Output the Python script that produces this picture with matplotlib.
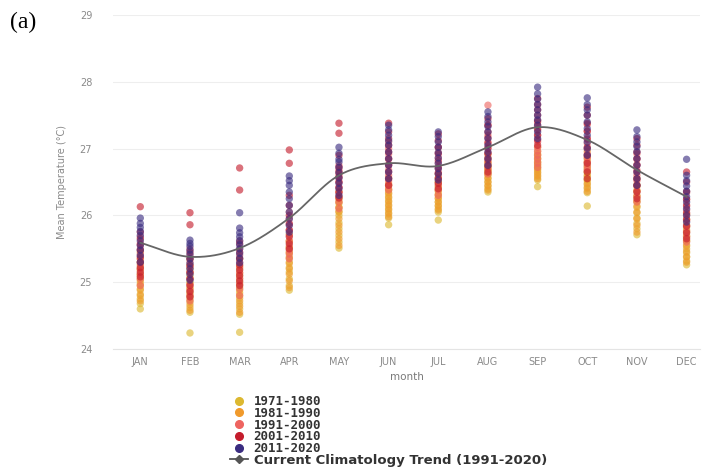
import numpy as np
import matplotlib
matplotlib.use("Agg")
import matplotlib.pyplot as plt
from matplotlib.lines import Line2D

months = ["JAN", "FEB", "MAR", "APR", "MAY", "JUN",
          "JUL", "AUG", "SEP", "OCT", "NOV", "DEC"]
decades = ["1971-1980", "1981-1990", "1991-2000", "2001-2010", "2011-2020"]
decade_colors = ["#dcb830", "#f09a2c", "#ee6460", "#c41c2c", "#3a2c80"]

# monthly mean temperatures, one list of yearly values per month
t_1971_1980 = [
    [24.60, 24.68, 24.75, 24.82, 24.90, 24.98, 25.05, 25.12, 25.20, 25.30],
    [24.24, 24.55, 24.62, 24.70, 24.78, 24.85, 24.92, 25.00, 25.10, 25.20],
    [24.25, 24.52, 24.60, 24.68, 24.76, 24.84, 24.92, 25.00, 25.10, 25.20],
    [24.88, 24.95, 25.05, 25.15, 25.22, 25.30, 25.38, 25.45, 25.52, 25.60],
    [25.51, 25.60, 25.70, 25.80, 25.89, 26.00, 26.06, 26.12, 26.18, 26.24],
    [25.86, 25.96, 26.02, 26.08, 26.14, 26.20, 26.26, 26.32, 26.38, 26.45],
    [25.93, 26.05, 26.10, 26.15, 26.20, 26.25, 26.30, 26.36, 26.42, 26.50],
    [26.35, 26.40, 26.45, 26.50, 26.55, 26.60, 26.64, 26.68, 26.72, 26.78],
    [26.43, 26.53, 26.58, 26.63, 26.68, 26.72, 26.76, 26.80, 26.86, 26.92],
    [26.14, 26.34, 26.40, 26.46, 26.52, 26.58, 26.64, 26.70, 26.76, 26.84],
    [25.71, 25.80, 25.88, 25.96, 26.04, 26.12, 26.20, 26.28, 26.36, 26.44],
    [25.26, 25.32, 25.38, 25.44, 25.50, 25.56, 25.62, 25.68, 25.75, 25.82],
]
t_1981_1990 = [
    [24.72, 24.80, 24.88, 24.95, 25.02, 25.10, 25.18, 25.25, 25.35, 25.45],
    [24.58, 24.66, 24.74, 24.82, 24.90, 24.98, 25.06, 25.15, 25.25, 25.35],
    [24.55, 24.64, 24.72, 24.80, 24.88, 24.96, 25.05, 25.14, 25.24, 25.35],
    [24.92, 25.02, 25.12, 25.20, 25.28, 25.36, 25.44, 25.52, 25.62, 25.72],
    [25.55, 25.65, 25.75, 25.85, 25.95, 26.05, 26.12, 26.20, 26.28, 26.36],
    [25.98, 26.04, 26.10, 26.16, 26.22, 26.28, 26.34, 26.40, 26.48, 26.56],
    [26.08, 26.14, 26.20, 26.26, 26.32, 26.38, 26.44, 26.50, 26.56, 26.62],
    [26.38, 26.44, 26.50, 26.56, 26.62, 26.68, 26.74, 26.80, 26.86, 26.92],
    [26.55, 26.60, 26.65, 26.70, 26.75, 26.80, 26.85, 26.90, 26.96, 27.02],
    [26.36, 26.42, 26.48, 26.54, 26.60, 26.66, 26.72, 26.80, 26.88, 26.96],
    [25.75, 25.85, 25.95, 26.05, 26.14, 26.22, 26.30, 26.38, 26.46, 26.55],
    [25.30, 25.38, 25.46, 25.54, 25.62, 25.70, 25.78, 25.86, 25.94, 26.02],
]
t_1991_2000 = [
    [24.95, 25.05, 25.12, 25.20, 25.28, 25.35, 25.42, 25.50, 25.58, 25.68],
    [24.72, 24.80, 24.88, 24.96, 25.05, 25.14, 25.22, 25.30, 25.40, 25.50],
    [24.80, 24.90, 24.98, 25.06, 25.14, 25.22, 25.30, 25.40, 25.50, 25.62],
    [25.35, 25.42, 25.48, 25.55, 25.62, 25.70, 25.78, 25.86, 25.95, 26.05],
    [26.10, 26.20, 26.28, 26.35, 26.42, 26.50, 26.56, 26.62, 26.68, 26.75],
    [26.38, 26.45, 26.52, 26.60, 26.68, 26.76, 26.84, 26.92, 27.00, 27.10],
    [26.30, 26.38, 26.46, 26.54, 26.62, 26.70, 26.78, 26.86, 26.94, 27.02],
    [26.62, 26.70, 26.78, 26.86, 26.94, 27.02, 27.10, 27.20, 27.35, 27.65],
    [26.72, 26.78, 26.84, 26.90, 26.96, 27.02, 27.10, 27.20, 27.30, 27.40],
    [26.68, 26.74, 26.80, 26.86, 26.92, 27.00, 27.08, 27.16, 27.26, 27.36],
    [26.20, 26.28, 26.36, 26.44, 26.52, 26.60, 26.68, 26.76, 26.84, 26.92],
    [25.60, 25.68, 25.76, 25.84, 25.92, 26.00, 26.08, 26.16, 26.24, 26.34],
]
t_2001_2010 = [
    [25.08, 25.15, 25.22, 25.30, 25.38, 25.48, 25.56, 25.65, 25.75, 26.13],
    [24.78, 24.86, 24.95, 25.05, 25.15, 25.25, 25.35, 25.45, 25.86, 26.04],
    [24.95, 25.02, 25.10, 25.18, 25.26, 25.35, 25.45, 25.58, 26.38, 26.71],
    [25.50, 25.58, 25.68, 25.78, 25.88, 26.00, 26.15, 26.30, 26.78, 26.98],
    [26.26, 26.34, 26.42, 26.50, 26.58, 26.65, 26.72, 26.90, 27.23, 27.38],
    [26.45, 26.55, 26.65, 26.75, 26.85, 26.95, 27.05, 27.15, 27.25, 27.38],
    [26.40, 26.48, 26.56, 26.64, 26.72, 26.82, 26.92, 27.02, 27.12, 27.22],
    [26.65, 26.74, 26.83, 26.92, 27.00, 27.08, 27.16, 27.25, 27.35, 27.45],
    [27.05, 27.13, 27.20, 27.28, 27.35, 27.42, 27.50, 27.58, 27.66, 27.75],
    [26.55, 26.65, 26.78, 26.90, 27.02, 27.14, 27.26, 27.38, 27.50, 27.62],
    [26.25, 26.35, 26.45, 26.55, 26.65, 26.75, 26.85, 26.95, 27.05, 27.15],
    [25.65, 25.74, 25.84, 25.94, 26.04, 26.14, 26.24, 26.36, 26.50, 26.65],
]
t_2011_2020 = [
    [25.30, 25.40, 25.48, 25.55, 25.62, 25.70, 25.76, 25.82, 25.88, 25.96],
    [25.03, 25.12, 25.20, 25.28, 25.35, 25.42, 25.48, 25.54, 25.58, 25.63],
    [25.29, 25.36, 25.43, 25.50, 25.56, 25.62, 25.68, 25.74, 25.81, 26.04],
    [25.75, 25.85, 25.95, 26.05, 26.15, 26.25, 26.35, 26.45, 26.52, 26.59],
    [26.30, 26.40, 26.48, 26.56, 26.64, 26.72, 26.80, 26.84, 26.93, 27.02],
    [26.55, 26.65, 26.75, 26.85, 26.95, 27.05, 27.12, 27.20, 27.28, 27.35],
    [26.53, 26.62, 26.70, 26.78, 26.86, 26.94, 27.02, 27.10, 27.18, 27.25],
    [26.75, 26.85, 26.95, 27.05, 27.15, 27.25, 27.33, 27.40, 27.48, 27.55],
    [27.15, 27.25, 27.35, 27.43, 27.50, 27.58, 27.66, 27.74, 27.82, 27.92],
    [26.90, 27.00, 27.10, 27.20, 27.30, 27.40, 27.50, 27.58, 27.66, 27.76],
    [26.45, 26.55, 26.65, 26.75, 26.85, 26.95, 27.03, 27.10, 27.18, 27.28],
    [25.90, 26.00, 26.10, 26.20, 26.28, 26.36, 26.44, 26.52, 26.60, 26.84],
]
climatology = [25.59, 25.38, 25.51, 25.96, 26.60, 26.78,
               26.74, 27.02, 27.32, 27.13, 26.68, 26.28]

series = [t_1971_1980, t_1981_1990, t_1991_2000, t_2001_2010, t_2011_2020]


def smooth_curve(y, n=40):
    # cubic Hermite through the monthly points (drawing only)
    y = np.asarray(y, dtype=float)
    x = np.arange(len(y))
    m = np.gradient(y)
    xs, ys = [], []
    for i in range(len(y) - 1):
        t = np.linspace(0, 1, n, endpoint=False)
        h00 = 2 * t**3 - 3 * t**2 + 1
        h10 = t**3 - 2 * t**2 + t
        h01 = -2 * t**3 + 3 * t**2
        h11 = t**3 - t**2
        xs.append(x[i] + t)
        ys.append(h00 * y[i] + h10 * m[i] + h01 * y[i + 1] + h11 * m[i + 1])
    xs.append([x[-1]])
    ys.append([y[-1]])
    return np.concatenate(xs), np.concatenate(ys)


fig = plt.figure(figsize=(7.07, 4.73), dpi=100)
ax = fig.add_axes([113 / 707, 1 - 349 / 473, 587 / 707, 334 / 473])

for vals, color in zip(series, decade_colors):
    for mi, month_vals in enumerate(vals):
        ax.scatter([mi] * len(month_vals), month_vals, s=28, color=color,
                   alpha=0.62, edgecolors="none", zorder=2)

cx, cy = smooth_curve(climatology)
ax.plot(cx, cy, color="#666666", lw=1.3, zorder=3)

ax.set_xlim(-0.55, 11.27)
ax.set_ylim(24, 29)
ax.set_yticks([24, 25, 26, 27, 28, 29])
ax.set_xticks(range(12))
ax.set_xticklabels(months)
ax.grid(axis="y", color="#eeeeee", lw=0.8)
ax.set_axisbelow(True)
for s in ["top", "right", "left"]:
    ax.spines[s].set_visible(False)
ax.spines["bottom"].set_color("#e4e4e4")
ax.tick_params(axis="both", length=0, labelsize=7, colors="#8a8a8a")
ax.tick_params(axis="y", pad=15)
ax.tick_params(axis="x", pad=6)
ax.set_xlabel("month", fontsize=7.5, color="#7a7a7a", labelpad=3)
ax.set_ylabel("Mean Temperature (°C)", fontsize=7, color="#8a8a8a", labelpad=9)

fig.text(10 / 707, 1 - 22 / 473, "(a)", fontsize=17, family="Liberation Serif",
         va="center", ha="left")

handles = [Line2D([0], [0], marker="o", ls="none", color=c, markersize=5.5)
           for c in decade_colors]
handles.append(Line2D([0], [0], marker="D", color="#555555", lw=1.3, markersize=4))
labels = decades + ["Current Climatology Trend (1991-2020)"]
leg = fig.legend(handles, labels, loc="upper left",
                 bbox_to_anchor=(230 / 707, 1 - 395 / 473), frameon=False,
                 prop={"family": "DejaVu Sans Mono", "weight": "bold", "size": 9},
                 labelspacing=-0.1, handlelength=1.4, handletextpad=0.5,
                 borderpad=0, borderaxespad=0)
for t in leg.get_texts():
    t.set_color("#333333")
leg.get_texts()[-1].set_fontfamily("DejaVu Sans")
leg.get_texts()[-1].set_fontsize(9.5)

fig.savefig("out.png", dpi=100)
